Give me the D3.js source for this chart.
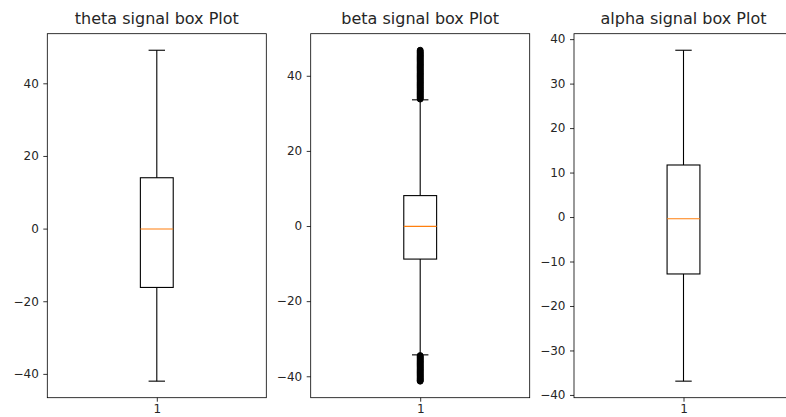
<!DOCTYPE html>
<html>
<head>
<meta charset="utf-8">
<script src="https://cdn.jsdelivr.net/npm/d3@7"></script>
<style>
  html, body { margin: 0; padding: 0; background: #fff; }
  svg { display: block; font-family: "DejaVu Sans", sans-serif; }
</style>
</head>
<body>
<svg id="chart" width="786" height="417"></svg>
<script>
// Panel titles and x category
const titles = ["theta signal box Plot", "beta signal box Plot", "alpha signal box Plot"];
const categories = ["1"];

// Five-number summaries: [lower whisker, Q1, median, Q3, upper whisker]
const thetaStats = [-42.0, -16.2, -0.1, 14.0, 49.1];
const betaStats  = [-34.3, -8.8, -0.1, 8.1, 33.6];
const alphaStats = [-36.9, -12.8, -0.4, 11.7, 37.5];

// Fliers beyond the whiskers (beta only)
const thetaFliers = [];
const betaFliers = [
  33.8, 34.1, 34.4, 34.7, 35.0, 35.3, 35.6, 35.9, 36.2, 36.5, 36.8, 37.1, 37.4, 37.7,
  38.0, 38.3, 38.6, 38.9, 39.2, 39.5, 39.8, 40.1, 40.4, 40.7, 41.0, 41.3, 41.6, 41.9,
  42.2, 42.5, 42.8, 43.1, 43.4, 43.7, 44.0, 44.3, 44.6, 44.9, 45.2, 45.5, 45.8, 46.1,
  46.4, 46.8,
  -34.5, -34.8, -35.1, -35.4, -35.7, -36.0, -36.3, -36.6, -36.9, -37.2, -37.5, -37.8,
  -38.1, -38.4, -38.7, -39.0, -39.3, -39.6, -39.9, -40.2, -40.5, -40.8, -41.1, -41.3
];
const alphaFliers = [];

// Tick labels per panel
const thetaTicks = [-40, -20, 0, 20, 40];
const betaTicks  = [-40, -20, 0, 20, 40];
const alphaTicks = [-40, -30, -20, -10, 0, 10, 20, 30, 40];

const panels = [
  { title: titles[0], stats: thetaStats, fliers: thetaFliers, ticks: thetaTicks },
  { title: titles[1], stats: betaStats,  fliers: betaFliers,  ticks: betaTicks },
  { title: titles[2], stats: alphaStats, fliers: alphaFliers, ticks: alphaTicks }
];

const svg = d3.select("#chart");
const plotTop = 33.7, plotBottom = 397.7;
const lefts = [47.3, 310.7, 574.0];
const panelW = 219;
const textColor = "#262626";

panels.forEach((p, i) => {
  const x0 = lefts[i];
  const all = p.stats.concat(p.fliers);
  const lo = d3.min(all), hi = d3.max(all);
  const pad = (hi - lo) * 0.05;

  const y = d3.scaleLinear().domain([lo - pad, hi + pad]).range([plotBottom, plotTop]);
  const x = d3.scaleLinear().domain([0.5, 1.5]).range([x0, x0 + panelW]);

  const g = svg.append("g");

  // y axis
  const yAxis = d3.axisLeft(y).tickValues(p.ticks).tickSize(4).tickPadding(4.5)
    .tickFormat(d => d < 0 ? "\u2212" + Math.abs(d) : String(d));
  const ya = g.append("g").attr("transform", `translate(${x0},0)`).call(yAxis);
  ya.select(".domain").remove();
  ya.selectAll("line").attr("stroke", "#000").attr("stroke-width", 0.8);
  ya.selectAll("text").attr("fill", textColor).style("font-size", "12px")
    .style("font-family", "DejaVu Sans, sans-serif");

  // x axis
  const xAxis = d3.axisBottom(x).tickValues([1]).tickSize(4).tickPadding(3)
    .tickFormat((d, k) => categories[k]);
  const xa = g.append("g").attr("transform", `translate(0,${plotBottom})`).call(xAxis);
  xa.select(".domain").remove();
  xa.selectAll("line").attr("stroke", "#000").attr("stroke-width", 0.8);
  xa.selectAll("text").attr("fill", textColor).style("font-size", "12px")
    .style("font-family", "DejaVu Sans, sans-serif");

  const cx = x(1);
  const boxHalf = x(1.075) - cx;
  const capHalf = x(1.0375) - cx;
  const [wLo, q1, med, q3, wHi] = p.stats;

  // whiskers
  g.append("line").attr("x1", cx).attr("x2", cx).attr("y1", y(q3)).attr("y2", y(wHi))
    .attr("stroke", "#000").attr("stroke-width", 1.1);
  g.append("line").attr("x1", cx).attr("x2", cx).attr("y1", y(q1)).attr("y2", y(wLo))
    .attr("stroke", "#000").attr("stroke-width", 1.1);
  // caps
  [wLo, wHi].forEach(v => {
    g.append("line").attr("x1", cx - capHalf).attr("x2", cx + capHalf)
      .attr("y1", y(v)).attr("y2", y(v)).attr("stroke", "#000").attr("stroke-width", 1.1);
  });
  // box
  g.append("rect").attr("x", cx - boxHalf).attr("y", y(q3))
    .attr("width", 2 * boxHalf).attr("height", y(q1) - y(q3))
    .attr("fill", "none").attr("stroke", "#000").attr("stroke-width", 1.1);
  // median
  g.append("line").attr("x1", cx - boxHalf).attr("x2", cx + boxHalf)
    .attr("y1", y(med)).attr("y2", y(med)).attr("stroke", "#ff7f0e").attr("stroke-width", 1.1);

  // fliers (densely packed, so they read as a solid band)
  g.selectAll("circle.flier").data(p.fliers).join("circle")
    .attr("class", "flier").attr("cx", cx).attr("cy", d => y(d)).attr("r", 3)
    .attr("fill", "#000").attr("stroke", "#000").attr("stroke-width", 1);

  // frame
  g.append("rect").attr("x", x0).attr("y", plotTop).attr("width", panelW).attr("height", plotBottom - plotTop)
    .attr("fill", "none").attr("stroke", "#000").attr("stroke-width", 0.8);

  // title
  g.append("text").attr("x", cx).attr("y", plotTop - 9.5).attr("text-anchor", "middle")
    .attr("fill", textColor).style("font-size", "16px").text(p.title);
});
</script>
</body>
</html>
